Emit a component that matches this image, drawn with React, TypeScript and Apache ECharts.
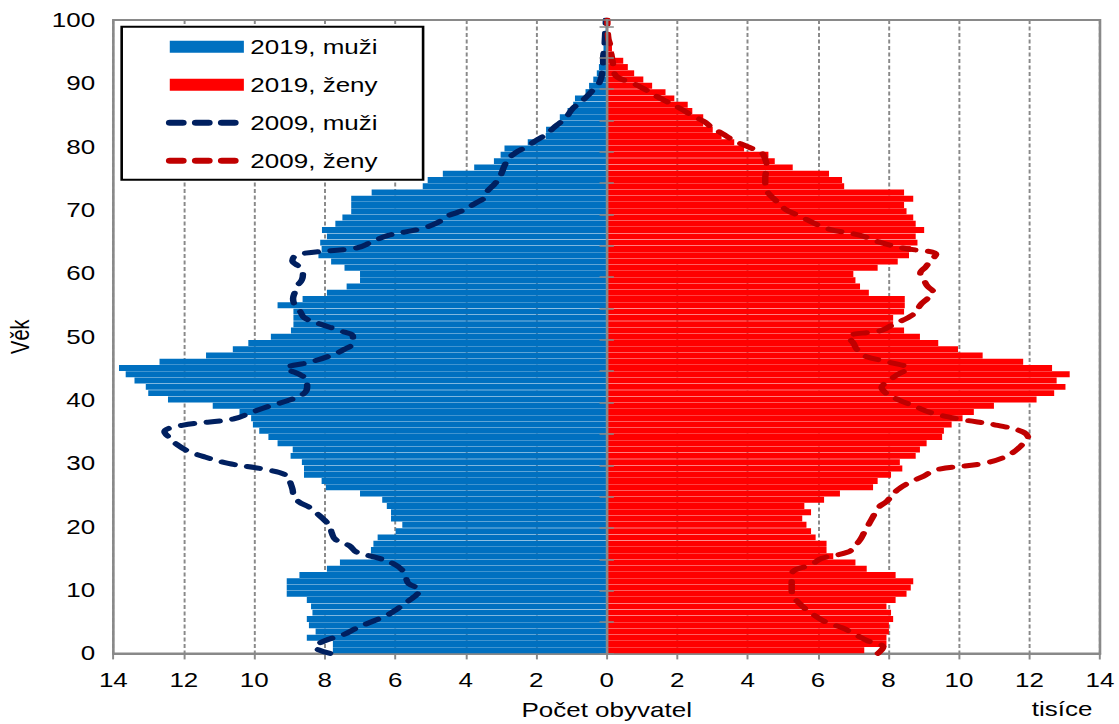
import { useEffect, useRef } from "react";
import * as echarts from "echarts";

// horizontal stretch of the original chart (texts look wider than high)
const S = 1.3;
const W0 = 861;
const H = 724;
const FONT = "'Liberation Sans', Arial, sans-serif";

const ages: string[] = Array.from({ length: 101 }, (_, i) => String(i));
const xTicks = { min: -14, max: 14, step: 2 };
const yTicks = { min: 0, max: 100, step: 10 };

// thousands of inhabitants by age 0..100
const men2019 = [
  7.77, 7.77, 8.51, 8.26, 8.45, 8.51, 8.35, 8.39, 8.51, 9.08,
  9.08, 9.08, 8.72, 7.94, 7.57, 6.69, 6.69, 6.62, 6.5, 5.99,
  5.8, 6.12, 6.12, 6.24, 6.37, 7.0, 7.97, 8.09, 8.59, 8.59,
  8.65, 8.97, 8.91, 9.34, 9.6, 9.86, 10.04, 10.09, 10.42, 11.18,
  12.45, 13.01, 13.08, 13.4, 13.65, 13.84, 12.69, 11.37, 10.61, 10.17,
  9.53, 8.96, 8.89, 8.89, 8.89, 9.34, 8.63, 7.94, 7.38, 7.0,
  7.0, 7.44, 7.82, 8.18, 8.09, 8.13, 7.94, 8.08, 7.7, 7.5,
  7.25, 7.25, 7.25, 6.67, 5.22, 5.08, 4.65, 3.76, 3.2, 3.01,
  2.9, 2.24, 1.73, 1.72, 1.35, 1.33, 1.11, 0.95, 0.9, 0.6,
  0.5, 0.38, 0.28, 0.22, 0.17, 0.12, 0.09, 0.06, 0.04, 0.03,
  0.02,
];

const women2019 = [
  7.31, 7.94, 7.94, 8.01, 8.01, 8.13, 8.07, 7.94, 8.2, 8.51,
  8.63, 8.7, 8.2, 7.38, 7.06, 6.43, 6.24, 6.24, 5.93, 5.8,
  5.67, 5.55, 5.8, 5.61, 6.17, 6.62, 7.56, 7.69, 8.07, 8.39,
  8.32, 8.77, 8.89, 9.08, 9.52, 9.57, 9.79, 10.1, 10.42, 10.99,
  12.2, 12.7, 13.02, 12.77, 13.14, 12.64, 11.82, 10.67, 9.97, 9.41,
  8.89, 8.44, 8.13, 8.13, 8.44, 8.46, 8.46, 7.44, 7.19, 7.06,
  7.0, 7.69, 8.26, 8.58, 8.63, 8.82, 8.77, 9.01, 8.77, 8.7,
  8.51, 8.44, 8.7, 8.44, 6.74, 6.68, 6.31, 5.28, 4.77, 4.59,
  3.9, 3.62, 3.26, 3.01, 2.74, 2.74, 2.43, 2.3, 1.92, 1.67,
  1.29, 1.04, 0.78, 0.6, 0.47, 0.21, 0.15, 0.1, 0.07, 0.04,
  0.02,
];

const men2009 = [
  7.85, 8.28, 8.0, 7.45, 7.1, 6.67, 6.24, 5.95, 5.7, 5.45,
  5.3, 5.62, 5.7, 5.78, 6.0, 6.45, 7.1, 7.3, 7.7, 7.8,
  7.85, 8.0, 8.2, 8.42, 8.75, 8.88, 8.92, 8.98, 9.05, 9.65,
  10.74, 11.4, 11.9, 12.2, 12.4, 12.55, 12.05, 10.6, 10.1, 9.6,
  9.0, 8.6, 8.5, 8.5, 8.7, 9.1, 8.4, 7.85, 7.45, 7.2,
  7.2, 7.6, 8.13, 8.58, 8.7, 8.85, 8.9, 8.85, 8.78, 8.65,
  8.62, 8.72, 8.92, 8.75, 7.1, 6.65, 6.2, 5.3, 4.8, 4.54,
  4.05, 3.75, 3.45, 3.38, 3.2, 3.05, 2.97, 2.9, 2.8, 2.6,
  2.27, 2.0, 1.7, 1.5, 1.28, 1.1, 0.97, 0.75, 0.55, 0.38,
  0.22, 0.15, 0.12, 0.1, 0.1, 0.08, 0.06, 0.05, 0.04, 0.03,
  0.02,
];

const women2009 = [
  7.7, 7.85, 7.4, 7.05, 6.7, 6.2, 5.9, 5.65, 5.45, 5.3,
  5.25, 5.25, 5.25, 5.3, 5.8, 6.1, 6.85, 7.05, 7.2, 7.3,
  7.4, 7.5, 7.6, 7.7, 7.95, 8.1, 8.3, 8.6, 9.0, 9.35,
  10.7, 11.3, 11.6, 11.8, 11.96, 11.8, 11.1, 10.0, 9.2, 8.75,
  8.3, 7.95, 7.8, 8.0, 8.25, 8.55, 8.0, 7.3, 7.1, 7.0,
  6.85, 7.8, 8.15, 8.55, 8.8, 8.9, 9.1, 9.27, 9.1, 9.0,
  8.9, 9.05, 9.2, 9.35, 8.4, 7.7, 7.2, 6.3, 5.85, 5.5,
  5.1, 4.9, 4.7, 4.55, 4.5, 4.5, 4.52, 4.54, 4.5, 4.4,
  4.0, 3.6, 3.3, 3.0, 2.75, 2.4, 2.1, 1.75, 1.4, 1.1,
  0.75, 0.3, 0.2, 0.18, 0.15, 0.12, 0.1, 0.05, 0.03, 0.02,
  0.02,
];

const names = ["2019, muži", "2019, ženy", "2009, muži", "2009, ženy"];
const colors = ["#0070C0", "#FF0000", "#002060", "#C00000"];

const GRAY = "#898989";

export default function App() {
  const ref = useRef<HTMLDivElement>(null);

  useEffect(() => {
    if (!ref.current) return;
    const chart = echarts.init(ref.current, undefined, { renderer: "svg" });

    const tickStyle = { color: GRAY, width: 1.5 };
    const option: any = {
      animation: false,
      textStyle: { fontFamily: FONT },
      grid: {
        left: 87.2,
        right: 14.85,
        top: 20,
        bottom: 70.6,
        containLabel: false,
        outerBoundsMode: "none",
        show: true,
        borderColor: GRAY,
        borderWidth: 2,
        backgroundColor: "transparent",
      },
      legend: {
        orient: "vertical",
        left: 93.6,
        top: 26.7,
        padding: [10, 35, 9, 34],
        itemGap: 18,
        itemWidth: 57,
        itemHeight: 12,
        backgroundColor: "#ffffff",
        borderColor: "#000000",
        borderWidth: 2,
        borderRadius: 0,
        textStyle: { fontSize: 20, color: "#000", fontFamily: FONT },
        data: [
          { name: names[0], icon: "rect" },
          { name: names[1], icon: "rect" },
          { name: names[2], itemStyle: { opacity: 0 }, lineStyle: { width: 6 } },
          { name: names[3], itemStyle: { opacity: 0 }, lineStyle: { width: 6 } },
        ],
      },
      xAxis: {
        type: "value",
        min: xTicks.min,
        max: xTicks.max,
        interval: xTicks.step,
        axisLine: { show: true, onZero: false, lineStyle: { color: GRAY, width: 2 } },
        axisTick: { show: true, length: 6, lineStyle: tickStyle },
        axisLabel: {
          formatter: (v: number) => String(Math.abs(v)),
          color: "#000",
          fontSize: 20,
          margin: 17,
          fontFamily: FONT,
        },
        splitLine: { show: true, lineStyle: { color: GRAY, width: 1.5, type: [4, 2.5] } },
        name: "Počet obyvatel",
        nameLocation: "middle",
        nameGap: 47,
        nameTextStyle: { color: "#000", fontSize: 20, fontFamily: FONT },
      },
      yAxis: [
        {
          type: "value",
          min: yTicks.min,
          max: yTicks.max,
          interval: yTicks.step,
          position: "left",
          axisLine: { show: false, onZero: false },
          axisTick: { show: false },
          splitLine: { show: false },
          axisLabel: { color: "#000", fontSize: 20, margin: 14, fontFamily: FONT },
          name: "Věk",
          nameLocation: "middle",
          nameGap: 62,
          nameRotate: 90,
          nameTextStyle: { color: "#000", fontSize: 20, fontFamily: FONT },
        },
        {
          type: "category",
          data: ages,
          position: "left",
          z: 5,
          axisLine: { show: true, onZero: true, onZeroAxisIndex: 0, lineStyle: { color: GRAY, width: 2 } },
          axisTick: { show: true, interval: 4, length: 5.5, lineStyle: tickStyle },
          axisLabel: { show: false },
          splitLine: { show: false },
        },
        {
          type: "category",
          data: ages,
          position: "right",
          z: 5,
          axisLine: { show: false, onZero: true, onZeroAxisIndex: 0 },
          axisTick: { show: true, interval: 4, length: 5.5, lineStyle: tickStyle },
          axisLabel: { show: false },
          splitLine: { show: false },
        },
      ],
      series: [
        {
          name: names[0],
          type: "bar",
          xAxisIndex: 0,
          yAxisIndex: 1,
          data: men2019.map((v) => -v),
          barGap: "-100%",
          barCategoryGap: "5%",
          itemStyle: { color: colors[0] },
        },
        {
          name: names[1],
          type: "bar",
          xAxisIndex: 0,
          yAxisIndex: 1,
          data: women2019,
          barGap: "-100%",
          barCategoryGap: "5%",
          itemStyle: { color: colors[1] },
        },
        {
          name: names[2],
          type: "line",
          xAxisIndex: 0,
          yAxisIndex: 0,
          data: men2009.map((v, i) => [-v, Number(ages[i])]),
          smooth: 0.4,
          symbol: "none",
          z: 3,
          itemStyle: { color: colors[2] },
          lineStyle: { color: colors[2], width: 5, type: [10, 10], cap: "round" },
        },
        {
          name: names[3],
          type: "line",
          xAxisIndex: 0,
          yAxisIndex: 0,
          data: women2009.map((v, i) => [v, Number(ages[i])]),
          smooth: 0.4,
          symbol: "none",
          z: 3,
          itemStyle: { color: colors[3] },
          lineStyle: { color: colors[3], width: 5, type: [10, 10], cap: "round" },
        },
      ],
      graphic: [
        {
          type: "text",
          x: 817,
          y: 709,
          style: {
            text: "tisíce",
            fill: "#000",
            fontSize: 20,
            fontFamily: FONT,
            align: "center",
            verticalAlign: "middle",
          },
        },
      ],
    };

    chart.setOption(option);
    return () => chart.dispose();
  }, []);

  return (
    <div
      ref={ref}
      style={{
        position: "fixed",
        left: 0,
        top: 0,
        width: W0,
        height: H,
        transform: `scaleX(${S})`,
        transformOrigin: "0 0",
        background: "#fff",
      }}
    />
  );
}
